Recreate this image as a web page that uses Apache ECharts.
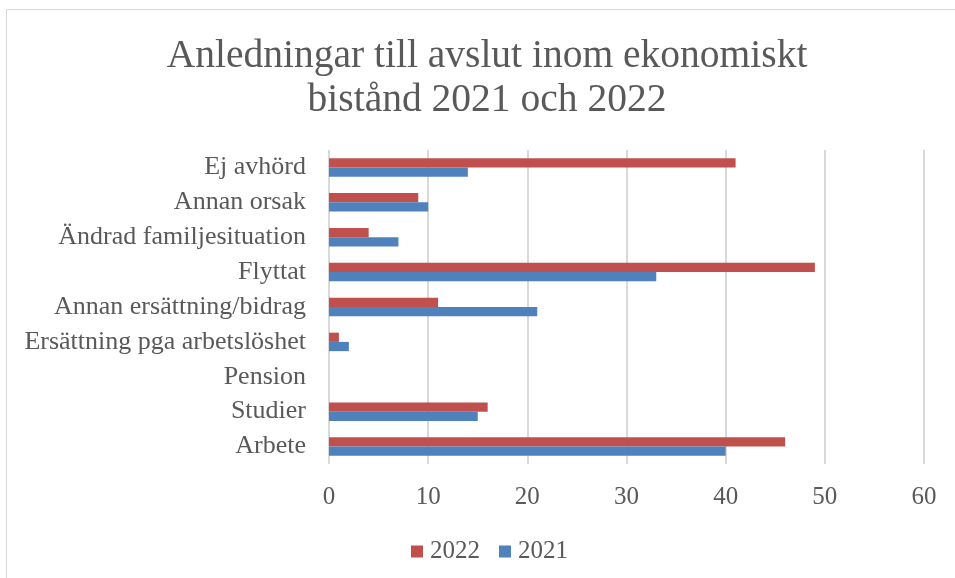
<!DOCTYPE html>
<html>
<head>
<meta charset="utf-8">
<script src="https://cdn.jsdelivr.net/npm/echarts@6/dist/echarts.min.js"></script>
<style>html,body{margin:0;padding:0;background:#fff;}#c{width:955px;height:578px;}</style>
</head>
<body>
<div id="c"></div>
<script>
const categories = ["Arbete","Studier","Pension","Ersättning pga arbetslöshet","Annan ersättning/bidrag","Flyttat","Ändrad familjesituation","Annan orsak","Ej avhörd"];
const values2022 = [46,16,0,1,11,49,4,9,41];
const values2021 = [40,15,0,2,21,33,7,10,14];
const xTicks = [0,10,20,30,40,50,60];
const titleText = "Anledningar till avslut inom ekonomiskt\nbistånd 2021 och 2022";
const FONT = "Liberation Serif";
const chart = echarts.init(document.getElementById('c'), null, {renderer:'canvas'});
chart.setOption({
  backgroundColor:'#fff',
  animation:false,
  graphic:[{type:'rect',shape:{x:6.5,y:9.5,width:1000,height:1000},style:{fill:'none',stroke:'#d9d9d9',lineWidth:1},silent:true}],
  title:{text:titleText,left:482,textAlign:'center',top:30,textStyle:{fontFamily:FONT,fontSize:39.5,fontWeight:'normal',color:'#595959',lineHeight:44}},
  legend:{top:534,left:406,itemWidth:12,itemHeight:12,itemGap:19,icon:'rect',textStyle:{fontFamily:FONT,fontSize:25,color:'#595959',padding:[0,0,0,2]},data:['2022','2021']},
  grid:{left:329,right:31,top:150,bottom:114,containLabel:false},
  xAxis:{type:'value',min:xTicks[0],max:xTicks[xTicks.length-1],interval:10,
    axisLine:{show:false},axisTick:{show:false},
    axisLabel:{fontFamily:FONT,fontSize:25,color:'#595959',margin:21,formatter:v=>xTicks.includes(v)?String(v):''},
    splitLine:{lineStyle:{color:'#d9d9d9',width:2}}},
  yAxis:{type:'category',data:categories,axisLine:{show:false},axisTick:{show:false},
    axisLabel:{fontFamily:FONT,fontSize:26,color:'#595959',margin:23}},
  series:[
    {name:'2022',type:'bar',data:values2022,barGap:'0%',barCategoryGap:'47%',itemStyle:{color:'#c0504d'}},
    {name:'2021',type:'bar',data:values2021,barGap:'0%',barCategoryGap:'47%',itemStyle:{color:'#4f81bd'}}
  ]
});
</script>
</body>
</html>
